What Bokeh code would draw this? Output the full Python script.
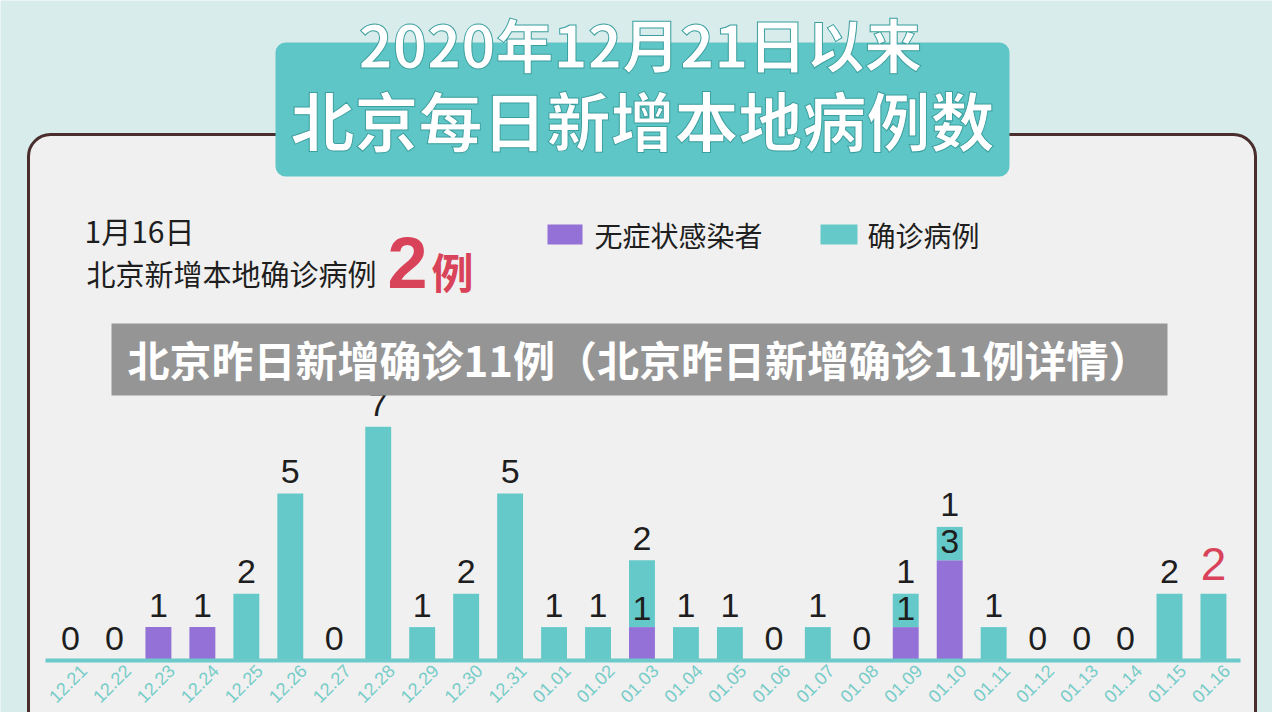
import numpy as np
from bokeh.plotting import figure
from bokeh.models import ColumnDataSource, Range1d, FixedTicker, BoxAnnotation, Label
from bokeh.core.properties import value
from bokeh.embed import file_html
from bokeh.resources import INLINE

# ---------------- data ----------------
dates = ["12.21", "12.22", "12.23", "12.24", "12.25", "12.26", "12.27", "12.28",
         "12.29", "12.30", "12.31", "01.01", "01.02", "01.03", "01.04", "01.05",
         "01.06", "01.07", "01.08", "01.09", "01.10", "01.11", "01.12", "01.13",
         "01.14", "01.15", "01.16"]
confirmed = [0, 0, 0, 0, 2, 5, 0, 7, 1, 2, 5, 1, 1, 2, 1, 1, 0, 1, 0, 1, 1, 1, 0, 0, 0, 2, 2]
asymptomatic = [0, 0, 1, 1, 0, 0, 0, 0, 0, 0, 0, 0, 0, 1, 0, 0, 0, 0, 0, 1, 3, 0, 0, 0, 0, 0, 0]

title_line1 = "2020年12月21日以来"
title_line2 = "北京每日新增本地病例数"
note_date = "1月16日"
note_text = "北京新增本地确诊病例"
note_num = "2"
note_unit = "例"
legend_names = ["无症状感染者", "确诊病例"]
banner_text = "北京昨日新增确诊11例（北京昨日新增确诊11例详情）"

# ---------------- styles ----------------
PAGE_BG = "#d9ecec"
PANEL_BG = "#f0f0f0"
PANEL_LINE = "#4a2e2e"
TITLE_BOX = "#5ec6c6"
TEAL = "#66c9c9"
PURPLE = "#9471d6"
RED = "#d9435a"
TEXT = "#1e1e1e"
CJK = "Noto Sans CJK SC"
NUM = "Liberation Sans"

FRAME_W, FRAME_H = 1272, 712
KX = 43.96
KY = 33.4
X_START = -70 / KX
X_END = X_START + FRAME_W / KX
Y_END = 660 / KY
Y_START = Y_END - FRAME_H / KY


def px_x(px):
    return X_START + px / KX


def px_y(py):
    return Y_END - py / KY


p = figure(frame_width=FRAME_W, frame_height=FRAME_H,
           x_range=Range1d(X_START, X_END), y_range=Range1d(Y_START, Y_END),
           output_backend="svg", toolbar_location=None, y_axis_location=None,
           title=None, min_border_left=0, min_border_right=0,
           min_border_top=0, min_border_bottom=0)
p.background_fill_color = PAGE_BG
p.border_fill_color = PAGE_BG
p.outline_line_color = None
p.xgrid.visible = False
p.ygrid.visible = False

# panel
p.add_layout(BoxAnnotation(left=px_x(28), right=px_x(1255), top=px_y(134), bottom=px_y(800),
                           fill_color=PANEL_BG, fill_alpha=1, line_color=PANEL_LINE,
                           line_alpha=1, line_width=3, border_radius=22, level="underlay"))

# axis (drawn at y = 0 inside the frame)
n = len(dates)
tick_pos = [round(i + 0.3, 2) for i in range(n)]
ax = p.xaxis[0]
ax.fixed_location = 0
ax.ticker = FixedTicker(ticks=tick_pos)
ax.major_label_overrides = {t: d for t, d in zip(tick_pos, dates)}
ax.major_label_orientation = np.pi / 4
ax.major_tick_out = 0
ax.major_tick_in = 0
ax.minor_tick_out = 0
ax.minor_tick_in = 0
ax.axis_line_color = "#6ccaca"
ax.axis_line_width = 4
ax.bounds = (px_x(45), px_x(1240))
ax.major_label_text_color = "#76ccc8"
ax.major_label_text_font = NUM
ax.major_label_text_font_size = "18px"
ax.major_label_standoff = 7

# bars
src = ColumnDataSource(dict(x=list(range(n)), asym=asymptomatic, conf=confirmed))
p.vbar_stack(["asym", "conf"], x="x", width=0.59, color=[PURPLE, TEAL],
             line_color=None, source=src)

# bar labels (middle baseline: centre of the digits)
lx, ly, lt, lc, ls = [], [], [], [], []
for i in range(n):
    a, c = asymptomatic[i], confirmed[i]
    last = i == n - 1
    lx.append(i)
    ly.append(a + c + (30 if last else 22) / KY)
    lt.append(str(c if c > 0 else a))
    lc.append(RED if last else TEXT)
    ls.append("46px" if last else "34px")
    if a > 0 and c > 0:
        lx.append(i)
        ly.append(a + 19 / KY)
        lt.append(str(a))
        lc.append(TEXT)
        ls.append("34px")
lab = ColumnDataSource(dict(x=lx, y=ly, text=lt, color=lc, size=ls))
p.text(x="x", y="y", text="text", text_color="color", text_font_size="size",
       text_font=value(NUM), text_align="center", text_baseline="middle",
       source=lab)

# title box
p.add_layout(BoxAnnotation(left=px_x(275), right=px_x(1009), top=px_y(42), bottom=px_y(176),
                           fill_color=TITLE_BOX, fill_alpha=1, line_color=None,
                           border_radius=10))
p.add_layout(Label(x=px_x(640), y=px_y(42), text=title_line1, text_font=CJK,
                   text_font_size="58px", text_font_style="bold", text_color="white",
                   text_outline_color="#3c9f9f", text_align="center", text_baseline="middle"))
p.add_layout(Label(x=px_x(642), y=px_y(117), text=title_line2, text_font=CJK,
                   text_font_size="64px", text_font_style="bold", text_color="white",
                   text_outline_color="#3c9f9f", text_align="center", text_baseline="middle"))

# note
p.add_layout(Label(x=px_x(84), y=px_y(229), text=note_date, text_font=CJK,
                   text_font_size="30px", text_color=TEXT, text_align="left", text_baseline="middle"))
p.add_layout(Label(x=px_x(86), y=px_y(272), text=note_text, text_font=CJK,
                   text_font_size="29px", text_color=TEXT, text_align="left", text_baseline="middle"))
p.add_layout(Label(x=px_x(387), y=px_y(262), text=note_num, text_font=NUM,
                   text_font_size="72px", text_font_style="bold", text_color=RED,
                   text_align="left", text_baseline="middle"))
p.add_layout(Label(x=px_x(431), y=px_y(270), text=note_unit, text_font=CJK,
                   text_font_size="42px", text_font_style="bold", text_color=RED,
                   text_align="left", text_baseline="middle"))

# legend
for (l, r), col, name, tx in [((547, 582), PURPLE, legend_names[0], 594),
                              ((820, 857), TEAL, legend_names[1], 867)]:
    p.add_layout(BoxAnnotation(left=px_x(l), right=px_x(r), top=px_y(224), bottom=px_y(244),
                               fill_color=col, fill_alpha=1, line_color=None))
    p.add_layout(Label(x=px_x(tx), y=px_y(234), text=name, text_font=CJK,
                       text_font_size="28px", text_color=TEXT, text_align="left",
                       text_baseline="middle"))

# banner
p.add_layout(BoxAnnotation(left=px_x(111), right=px_x(1167), top=px_y(323), bottom=px_y(395),
                           fill_color="#959595", fill_alpha=1, line_color=None, level="overlay"))
p.add_layout(Label(x=px_x(127), y=px_y(358), text=banner_text, text_font=CJK,
                   text_font_size="42px", text_font_style="bold", text_color="white",
                   text_align="left", text_baseline="middle", level="overlay"))

open("out.html", "w").write(file_html(p, INLINE))
